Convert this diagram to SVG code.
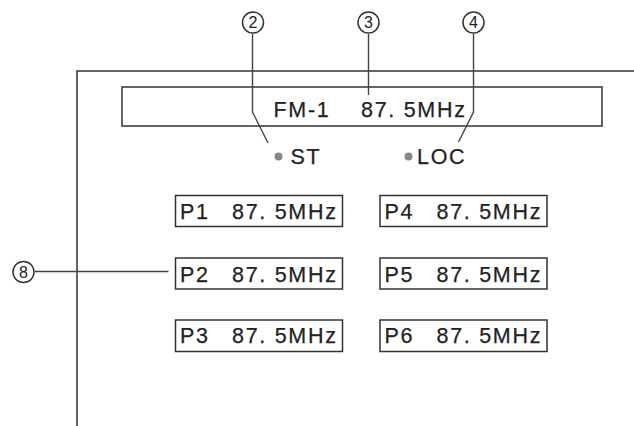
<svg xmlns="http://www.w3.org/2000/svg" width="634" height="426" viewBox="0 0 634 426">
<style>
.ln{fill:none;stroke:#333;stroke-width:1.5}
.co{fill:none;stroke:#444;stroke-width:1.4}
.box{fill:#fff;stroke:#333;stroke-width:1.5}
.t{font-family:"Liberation Sans",Arial,sans-serif;font-size:21.5px;fill:#222;stroke:#222;stroke-width:0.25;letter-spacing:1.7px}
.cn{font-family:"Liberation Sans",Arial,sans-serif;font-size:16px;fill:#222;text-anchor:middle}
.cc{fill:#fff;stroke:#333;stroke-width:1.5}
.dot{fill:#888}
</style>
<rect width="634" height="426" fill="#fff"/>
<g id="frame">
<path class="ln" d="M634 71H77V426"/>
</g>
<g id="display">
<rect class="box" x="122" y="87" width="480" height="39"/>
<text class="t" y="116.5"><tspan x="273.5">FM-1</tspan><tspan x="361">87. 5MHz</tspan></text>
</g>
<g id="indicator-st">
<circle class="dot" cx="278.5" cy="156.5" r="4"/>
<text class="t" x="290.5" y="163.5">ST</text>
</g>
<g id="indicator-loc">
<circle class="dot" cx="408.5" cy="156.5" r="4"/>
<text class="t" x="417" y="163.5">LOC</text>
</g>
<g id="preset-p1">
<rect class="box" x="175.5" y="195.5" width="167" height="31"/>
<text class="t" y="219"><tspan x="180">P1</tspan><tspan x="232">87. 5MHz</tspan></text>
</g>
<g id="preset-p2">
<rect class="box" x="175.5" y="258" width="167" height="31"/>
<text class="t" y="281.5"><tspan x="180">P2</tspan><tspan x="232">87. 5MHz</tspan></text>
</g>
<g id="preset-p3">
<rect class="box" x="175.5" y="320" width="167" height="31.5"/>
<text class="t" y="343.3"><tspan x="180">P3</tspan><tspan x="232">87. 5MHz</tspan></text>
</g>
<g id="preset-p4">
<rect class="box" x="380" y="195.5" width="167" height="31"/>
<text class="t" y="219"><tspan x="384.5">P4</tspan><tspan x="436.5">87. 5MHz</tspan></text>
</g>
<g id="preset-p5">
<rect class="box" x="380" y="258" width="167" height="31"/>
<text class="t" y="281.5"><tspan x="384.5">P5</tspan><tspan x="436.5">87. 5MHz</tspan></text>
</g>
<g id="preset-p6">
<rect class="box" x="380" y="320" width="167" height="31.5"/>
<text class="t" y="343.3"><tspan x="384.5">P6</tspan><tspan x="436.5">87. 5MHz</tspan></text>
</g>
<g id="connectors">
<path class="co" d="M252.5 34V112L268 143"/>
<path class="co" d="M368.5 34V95"/>
<path class="co" d="M473.5 34V112L458.5 142"/>
<path class="co" d="M35 271.5H168.5"/>
</g>
<g id="callout-2">
<circle class="cc" cx="253" cy="22.5" r="10.5"/>
<text class="cn" x="253" y="28.3">2</text>
</g>
<g id="callout-3">
<circle class="cc" cx="368.5" cy="22.5" r="10.5"/>
<text class="cn" x="368.5" y="28.3">3</text>
</g>
<g id="callout-4">
<circle class="cc" cx="473.5" cy="22.5" r="10.5"/>
<text class="cn" x="473.5" y="28.3">4</text>
</g>
<g id="callout-8">
<circle class="cc" cx="23.5" cy="272" r="10.5"/>
<text class="cn" x="23.5" y="277.8">8</text>
</g>
</svg>
